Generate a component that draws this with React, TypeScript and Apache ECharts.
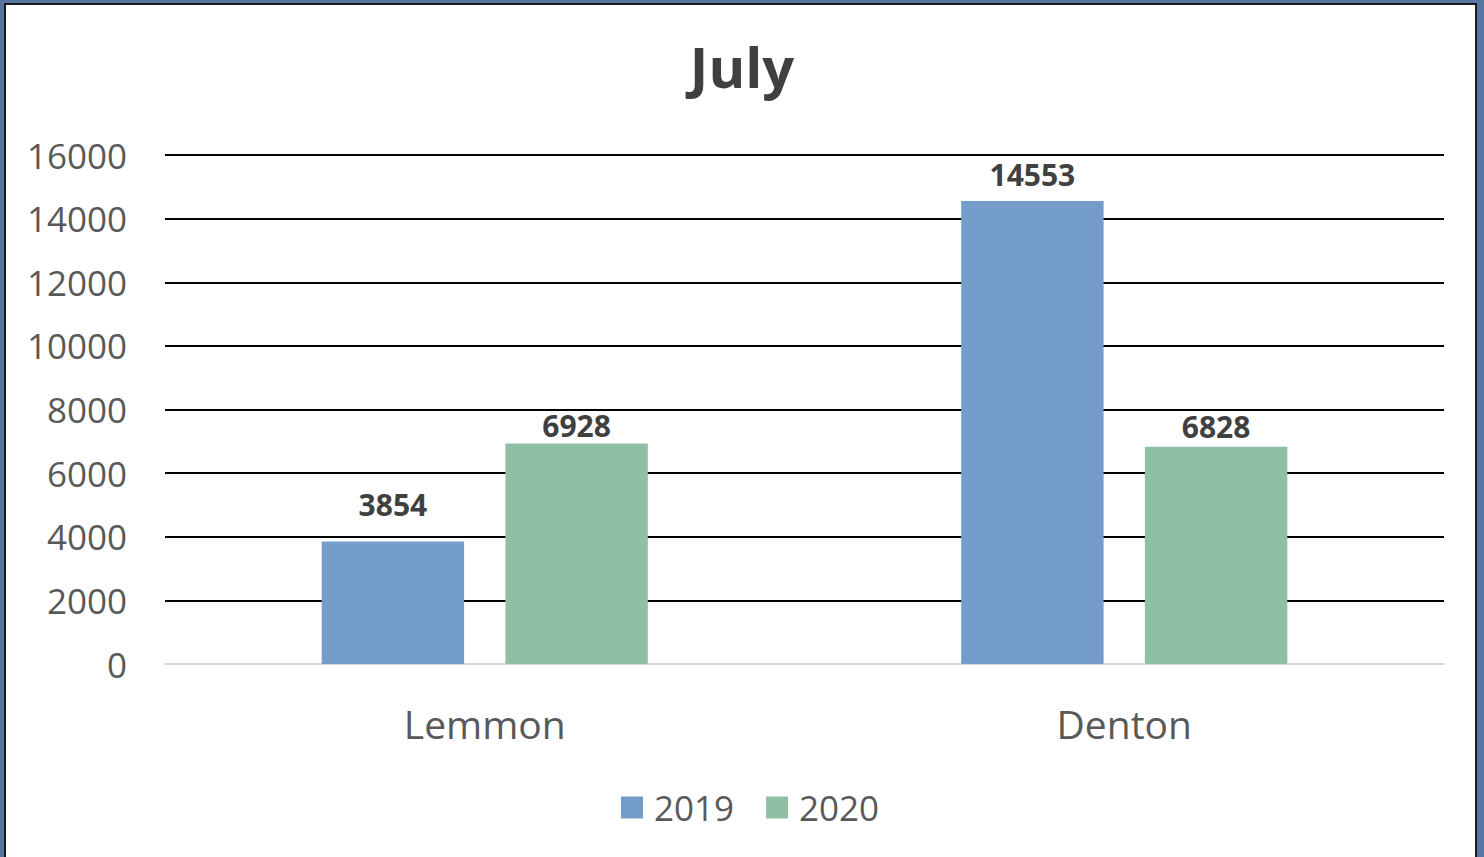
import React, { useEffect, useRef } from "react";
import * as echarts from "echarts";

const categories = ["Lemmon", "Denton"];
const seriesNames = ["2019", "2020"];
const values2019 = [3854, 14553];
const values2020 = [6928, 6828];
const yTicks = { min: 0, max: 16000, interval: 2000 };
const title = "July";

// label distances (styling, not data)
const labelDist2019 = [22, 12];
const labelDist2020 = [3, 5];

const FONT = "'Open Sans', 'Liberation Sans', sans-serif";

export default function App() {
  const ref = useRef<HTMLDivElement>(null);
  useEffect(() => {
    document.body.style.margin = "0";
    const chart = echarts.init(ref.current!, undefined, { renderer: "svg" });
    const labelStyle = {
      show: true,
      position: "top" as const,
      distance: 16,
      fontFamily: FONT,
      fontSize: 30,
      fontWeight: "bold" as const,
      color: "#404040",
    };
    const withDist = (vals: number[], dists: number[]) =>
      vals.map((v, i) => ({ value: v, label: { distance: dists[i] } }));
    chart.setOption({
      animation: false,
      backgroundColor: "transparent",
      title: {
        text: title,
        left: "center",
        top: 33,
        textStyle: { fontFamily: FONT, fontSize: 56, fontWeight: "bold", color: "#404040" },
      },
      legend: {
        data: seriesNames,
        left: 616,
        top: 785,
        itemWidth: 22,
        itemHeight: 22,
        itemGap: 32,
        icon: "rect",
        textStyle: { fontFamily: FONT, fontSize: 35, color: "#595959", padding: [0, 0, 0, 6] },
      },
      grid: { left: 165, right: 40, top: 155, bottom: 193, containLabel: false },
      xAxis: {
        type: "category",
        data: categories,
        axisLine: { show: true, lineStyle: { color: "#d9d9d9", width: 2 } },
        axisTick: { show: false },
        axisLabel: { fontFamily: FONT, fontSize: 39, color: "#595959", margin: 40 },
      },
      yAxis: {
        type: "value",
        min: yTicks.min,
        max: yTicks.max,
        interval: yTicks.interval,
        axisLine: { show: false },
        axisTick: { show: false },
        axisLabel: {
          fontFamily: FONT,
          fontSize: 35,
          color: "#595959",
          margin: 38,
          formatter: (v: number) => String(v),
        },
        splitLine: { show: true, showMinLine: false, lineStyle: { color: "#000000", width: 2 } },
      },
      series: [
        {
          name: seriesNames[0],
          type: "bar",
          data: withDist(values2019, labelDist2019),
          itemStyle: { color: "#749ec9" },
          barGap: "29%",
          barCategoryGap: "49%",
          label: labelStyle,
        },
        {
          name: seriesNames[1],
          type: "bar",
          data: withDist(values2020, labelDist2020),
          itemStyle: { color: "#8fc0a5" },
          barGap: "29%",
          barCategoryGap: "49%",
          label: labelStyle,
        },
      ],
    });
    return () => chart.dispose();
  }, []);
  return (
    <div style={{ position: "relative", width: 1484, height: 857, background: "#56769f", overflow: "hidden" }}>
      <div
        style={{
          position: "absolute",
          left: 4,
          top: 3,
          width: 1477 - 4,
          height: 860,
          background: "#ffffff",
          border: "2px solid #1a1a1a",
          boxSizing: "border-box",
        }}
      />
      <div ref={ref} style={{ position: "absolute", left: 0, top: 0, width: 1484, height: 857 }} />
    </div>
  );
}
